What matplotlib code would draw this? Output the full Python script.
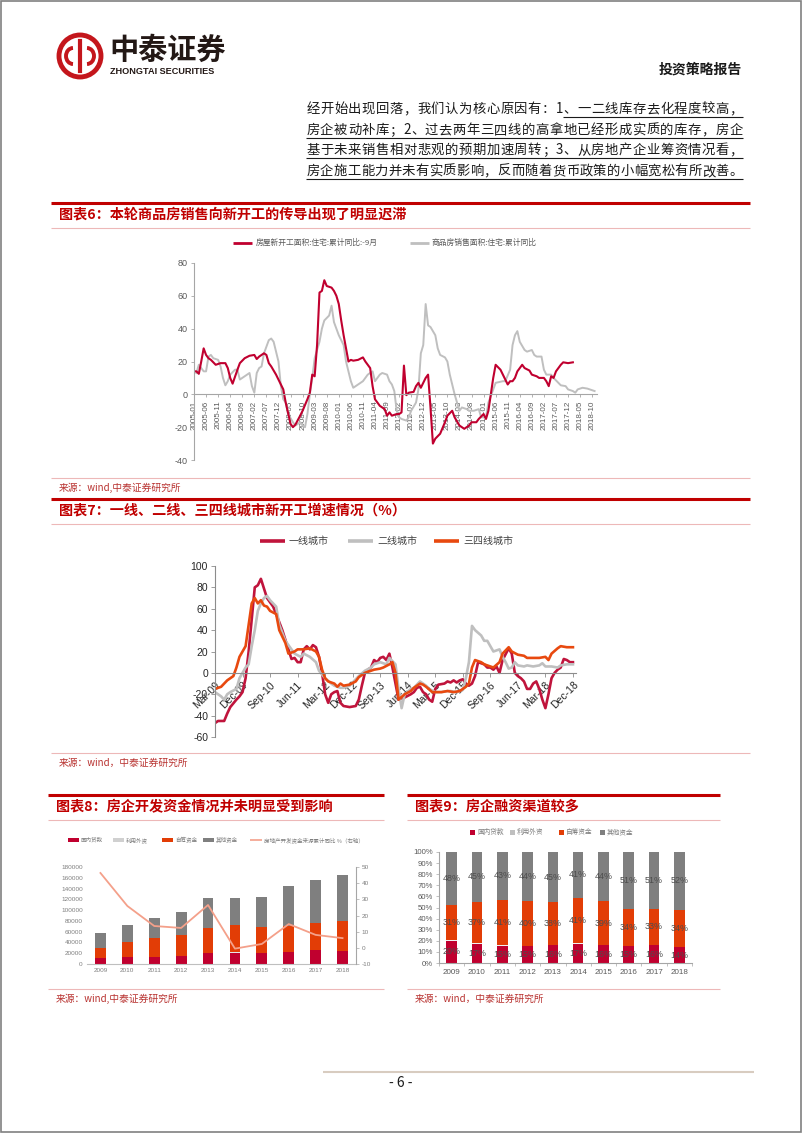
import numpy as np
import matplotlib.pyplot as plt
from matplotlib.patches import Circle, Rectangle, Arc

plt.rcParams['font.family'] = ['Noto Sans CJK SC', 'DejaVu Sans']

W, H = 802, 1133

# ---------------- data ----------------
para_lines = [
    "经开始出现回落，我们认为核心原因有：1、一二线库存去化程度较高，",
    "房企被动补库；2、过去两年三四线的高拿地已经形成实质的库存，房企",
    "基于未来销售相对悲观的预期加速周转；3、从房地产企业筹资情况看，",
    "房企施工能力并未有实质影响，反而随着货币政策的小幅宽松有所改善。",
]

# chart 6: month offset from 2005-01, value (%)
starts_pts = [(0, 14), (1, 14), (2, 12.5), (3, 20), (4, 28), (5, 24), (6, 22), (7, 21), (9, 18),
              (11, 19), (13, 19), (14, 16), (15, 10), (16, 6.5), (18, 15), (19, 19), (21, 22),
              (23, 23.5), (25, 24), (26, 21.5), (27, 23), (29, 25), (30, 24), (31, 19), (32, 17),
              (34, 12), (36, 6), (37, 3), (38, -5), (40, -18), (41, -20), (42, -18.5), (44, -13),
              (45, -10), (47, -3), (48, 1), (49, 12), (50, 11), (51, 30), (52, 62), (53, 63),
              (54, 69.5), (55, 66), (57, 65), (58, 63), (59, 60), (60, 55), (61, 45), (62, 36),
              (63, 28), (64, 20), (65, 21), (66, 20.5), (68, 21), (70, 22.5), (71, 20), (73, 16),
              (74, 5), (75, -3), (77, -7), (79, -9), (80, -13), (81, -11), (82, -13), (84, -12),
              (85, -12), (86, -11), (87, 17.5), (88, -0.5), (89, 1), (91, 1.5), (92, 5), (93, 7),
              (94, 4), (95, 7), (96, 10), (97, 12), (98, -8), (99, -30), (100, -27), (102, -24),
              (104, -17), (105, -13), (107, -10), (108, -14), (110, -19), (112, -21), (114, -19),
              (115, -17), (117, -17), (118, -15), (120, -12), (121, -15), (122, -10), (123, 0),
              (124, 10), (125, 18), (127, 15), (128, 12), (130, 6), (131, 8), (132, 8), (133, 10),
              (134, 14), (136, 18), (137, 16), (139, 14.5), (140, 12), (142, 11), (143, 10),
              (145, 10), (146, 8), (147, 5), (148, 11), (149, 10), (150, 14), (152, 18),
              (153, 19.5), (155, 19), (157, 19.5)]
sales_pts = [(1, 13), (2, 18), (3, 16), (4, 14), (5, 14), (6, 23), (7, 24), (8, 22), (10, 21),
             (11, 17), (12, 10), (13, 5.5), (14, 8), (15, 12), (17, 15), (18, 15), (19, 9),
             (21, 11), (23, 13), (24, 5), (25, 1), (26, 13), (27, 16), (28, 17), (29, 25),
             (31, 33), (32, 34), (33, 32), (35, 20), (36, 5), (37, -3), (38, -5), (39, -12),
             (41, -17), (42, -19), (44, -17), (45, -19), (46, -20), (47, -12), (48, 0), (49, 10),
             (50, 22), (52, 32), (53, 40), (54, 45), (56, 48), (57, 54), (58, 44), (59, 40),
             (60, 36), (62, 30), (63, 20), (65, 8), (66, 4), (67, 5), (68, 6), (70, 8), (72, 12),
             (74, 14), (75, 8), (77, 12), (78, 13), (80, 12), (81, 8), (82, 6), (83, 2),
             (84, -10), (85, -14), (86, -15), (88, -16), (89, -14), (90, -10), (92, -5), (93, 3),
             (94, 25), (95, 30), (96, 55), (97, 42), (98, 41), (100, 36), (101, 28), (102, 24),
             (104, 22.5), (105, 20), (106, 12), (108, 0), (109, -5), (110, -10), (111, -8),
             (113, -9), (114, -10), (116, -10), (118, -9), (119, -14), (121, -14), (122, -5),
             (124, 3), (125, 7), (128, 8), (129, 8), (131, 15), (132, 30), (133, 36), (134, 38.5),
             (135, 32), (137, 27), (138, 26), (140, 27), (141, 24), (142, 23), (144, 23),
             (145, 15), (146, 12), (148, 12), (149, 10), (151, 7), (152, 5.5), (154, 5),
             (155, 3), (157, 2), (158, 1), (159, 3), (161, 4), (163, 3.5), (165, 2.5), (166, 2)]

# chart 7: month offset from 2009-03
tier1_pts = [(0, -47), (1, -45), (3, -45), (4, -38), (5, -32), (7, -25), (8, -22), (9, -18),
             (10, -5), (11, 20), (12, 50), (13, 80), (14, 82), (15, 88), (16, 79), (17, 70),
             (18, 66), (19, 62), (20, 55), (22, 40), (24, 22), (25, 13), (26, 14), (27, 10),
             (28, 10), (29, 22), (30, 25), (31, 22), (32, 26), (33, 24), (34, 15), (35, 0),
             (36, -20), (37, -28), (38, -20), (39, -18), (40, -17), (41, -28), (42, -31),
             (44, -32), (46, -31), (47, -25), (48, -12), (49, 0), (50, 3), (51, 5), (52, 12),
             (53, 10), (54, 14), (55, 15), (56, 12), (57, 18), (58, 5), (59, -10), (60, -25),
             (62, -23), (64, -20), (65, -18), (66, -14), (67, -13), (68, -18), (69, -20),
             (70, -25), (71, -27), (72, -15), (73, -11), (75, -10), (76, -8), (77, -9), (78, -7),
             (79, -9), (80, -7), (81, -6), (82, -10), (83, -12), (84, -10), (85, -3), (86, 10),
             (88, 8), (89, 5), (90, 5), (91, 3), (92, 6), (93, 0), (94, 12), (96, 23), (97, 18),
             (98, 0), (99, -3), (100, -5), (101, -8), (102, -15), (103, -15), (104, -10),
             (105, -8), (106, -15), (107, -25), (108, -33), (109, -20), (110, -5), (111, 0),
             (112, 3), (113, 5), (114, 13), (115, 12), (116, 10), (117, 10)]
tier2_pts = [(0, -18), (2, -22), (3, -25), (4, -20), (5, -18), (7, -15), (8, -5), (10, 5),
             (11, 8), (12, 25), (13, 40), (14, 58), (15, 65), (16, 70), (17, 72), (18, 68),
             (20, 62), (21, 45), (23, 30), (25, 22), (26, 18), (28, 15), (29, 18), (31, 15),
             (33, 10), (34, 2), (36, -5), (38, -10), (39, -12), (41, -14), (42, -14), (44, -12),
             (46, -6), (47, -3), (49, 2), (51, 5), (52, 8), (54, 10), (56, 8), (57, 14), (59, 8),
             (60, -15), (61, -33), (62, -20), (64, -15), (65, -14), (67, -8), (69, -12),
             (70, -15), (72, -18), (74, -18), (76, -17), (77, -17), (79, -18), (81, -16),
             (82, -5), (83, 10), (84, 44), (85, 40), (87, 35), (88, 30), (89, 30), (90, 25),
             (91, 20), (93, 22), (94, 15), (95, 10), (96, 4), (97, 5), (98, 10), (99, 7),
             (101, 6), (102, 7), (104, 6), (106, 7), (107, 9), (108, 6), (110, 6), (112, 5),
             (113, 7), (115, 8), (117, 8)]
tier3_pts = [(0, -15), (2, -13), (3, -10), (4, -7), (6, -3), (7, 5), (8, 15), (9, 20), (10, 25),
             (11, 45), (12, 65), (13, 70), (14, 65), (15, 68), (16, 63), (17, 62), (18, 58),
             (20, 55), (21, 40), (23, 28), (24, 18), (26, 20), (27, 22), (29, 22), (31, 23),
             (33, 20), (34, 15), (35, 3), (36, -5), (37, -8), (39, -10), (40, -13), (41, -10),
             (42, -12), (44, -11), (46, -8), (47, -4), (49, 0), (51, 2), (52, 3), (54, 4),
             (55, 5), (57, 8), (58, 10), (59, 0), (60, -25), (62, -20), (64, -17), (65, -14),
             (67, -10), (68, -11), (69, -13), (71, -18), (74, -18), (76, -17), (78, -18),
             (80, -17), (82, -13), (83, -10), (84, 5), (85, 12), (87, 10), (88, 8), (90, 6),
             (91, 5), (93, 10), (94, 18), (96, 24), (97, 20), (99, 17), (101, 16), (102, 14),
             (104, 14), (106, 14), (108, 15), (109, 12), (110, 18), (112, 23), (113, 25),
             (115, 24), (117, 24)]

# chart 8 / 9
years = ['2009', '2010', '2011', '2012', '2013', '2014', '2015', '2016', '2017', '2018']
loans = [11300, 12600, 13000, 14800, 19600, 21200, 20200, 21500, 25200, 24000]
foreign = [480, 790, 790, 470, 530, 640, 300, 140, 170, 110]
selfraised = [17900, 26700, 35000, 39100, 47400, 49700, 49000, 49100, 50900, 55800]
others = [27800, 32400, 36200, 42100, 54500, 50400, 55500, 73300, 79700, 86100]
growth = [46.3, 25.9, 13.5, 12.3, 26.5, -0.5, 2.4, 14.7, 8.0, 6.0]

loan_pct = [20, 17, 15, 15, 16, 17, 16, 15, 16, 14]
foreign_pct = [1, 1, 1, 0.5, 0.4, 0.5, 0.2, 0.1, 0.1, 0.1]
self_pct = [31, 37, 41, 40, 38, 41, 39, 34, 33, 34]
other_pct = [48, 45, 43, 44, 45, 41, 44, 51, 51, 52]

RED = '#C0002F'
ORANGE = '#E23D06'
GREY = '#7F7F7F'
LGREY = '#BFBFBF'
TITLE_RED = '#C00000'

# ---------------- page ----------------
fig = plt.figure(figsize=(W / 100, H / 100), dpi=100)
bg = fig.add_axes([0, 0, 1, 1])
bg.set_xlim(0, W)
bg.set_ylim(H, 0)
bg.axis('off')


def px_axes(l, t, r, b):
    ax = fig.add_axes([l / W, 1 - b / H, (r - l) / W, (b - t) / H])
    ax.patch.set_alpha(0)
    return ax


def hline(x0, x1, y, color, lw):
    bg.plot([x0, x1], [y, y], color=color, lw=lw, solid_capstyle='butt')


bg.add_patch(Rectangle((0.5, 0.5), W - 2, H - 2, fill=False, ec='#808080', lw=1.2, clip_on=False))

# logo
bg.add_patch(Circle((80, 56), 21, fill=False, ec='#C4161C', lw=3.5))
bg.plot([80, 80], [41, 71], color='#C4161C', lw=3)
bg.add_patch(Arc((73, 56), 14, 16, theta1=90, theta2=270, ec='#C4161C', lw=2.8))
bg.add_patch(Arc((87, 56), 14, 16, theta1=-90, theta2=90, ec='#C4161C', lw=2.8))
bg.text(109, 50, '中泰证券', fontsize=21, fontweight='bold', va='center', ha='left', color='#231815')
bg.text(110, 71, 'ZHONGTAI SECURITIES', fontsize=6.6, fontweight='bold', va='center', ha='left',
        family='Liberation Sans', color='#231815')
bg.text(742, 70, '投资策略报告', fontsize=10, fontweight='bold', va='center', ha='right', color='#1a1a1a')

# paragraph, justified char by char
para_y = [109, 130, 150, 171]
for i, (line, y) in enumerate(zip(para_lines, para_y)):
    w = [0.55 if ord(c) < 128 else 1.0 for c in line]
    step = (743 - 306) / sum(w)
    x = 306
    xs = []
    for c, wi in zip(line, w):
        bg.text(x + wi * step / 2, y, c, fontsize=9.6, ha='center', va='center', color='#1a1a1a')
        xs.append(x)
        x += wi * step
    u0 = xs[line.index('、')] if i == 0 else 306
    hline(u0, 743, y + 7.5, '#1a1a1a', 0.8)


def section(x0, x1, top, title, src_y, src):
    hline(x0, x1, top, '#C00000', 2.2)
    bg.text(x0 + 8, top + 12, title, fontsize=10.2, fontweight='bold', color=TITLE_RED,
            va='center', ha='left')
    hline(x0, x1, top + 25, '#EDB8B8', 0.8)
    hline(x0, x1, src_y - 10, '#EDB8B8', 0.8)
    bg.text(x0 + 8, src_y, src, fontsize=7, color='#B8312F', va='center', ha='left')


section(51, 750, 203, '图表6：本轮商品房销售向新开工的传导出现了明显迟滞', 488, '来源：wind,中泰证券研究所')
section(51, 750, 499, '图表7：一线、二线、三四线城市新开工增速情况（%）', 763, '来源：wind，中泰证券研究所')
section(48, 384, 795, '图表8：房企开发资金情况并未明显受到影响', 999, '来源：wind,中泰证券研究所')
section(407, 720, 795, '图表9：房企融资渠道较多', 999, '来源：wind，中泰证券研究所')

# footer
hline(323, 754, 1072, '#D8CCC0', 1.5)
bg.text(401, 1083, '- 6 -', fontsize=10, ha='center', va='center', color='#1a1a1a')

# ---------------- chart 6 ----------------
ax6 = px_axes(194, 263, 597, 460)
sm, sv = zip(*sales_pts)
rm, rv = zip(*starts_pts)
ax6.plot(sm, sv, color=LGREY, lw=1.4)
ax6.plot(rm, rv, color=RED, lw=1.5)
ax6.set_xlim(0, 167)
ax6.set_ylim(-40, 80)
for s in ['top', 'right']:
    ax6.spines[s].set_visible(False)
ax6.spines['bottom'].set_position(('data', 0))
ax6.spines['bottom'].set_color('#A6A6A6')
ax6.spines['left'].set_color('#A6A6A6')
t6 = list(range(0, 166, 5))
ax6.set_xticks(t6)
ax6.set_xticklabels([f"{2005 + m // 12}-{m % 12 + 1:02d}" for m in t6], rotation=90,
                    fontsize=5.8, color='#595959', family='Liberation Sans')
ax6.set_yticks(range(-40, 81, 20))
ax6.set_yticklabels([str(v) for v in range(-40, 81, 20)], fontsize=6.5, color='#595959',
                    family='Liberation Sans')
ax6.tick_params(axis='both', length=2.5, width=0.6, color='#A6A6A6', pad=2)

hline(233, 252, 243, RED, 2)
bg.text(256, 243, '房屋新开工面积:住宅:累计同比:-9月', fontsize=5.6, color='#595959', va='center')
hline(410, 429, 243, LGREY, 2)
bg.text(432, 243, '商品房销售面积:住宅:累计同比', fontsize=5.6, color='#595959', va='center')

# ---------------- chart 7 ----------------
ax7 = px_axes(215, 566, 576, 737)
for pts, col in [(tier1_pts, '#C0143C'), (tier2_pts, LGREY), (tier3_pts, '#E8490F')]:
    m, v = zip(*pts)
    ax7.plot(m, v, color=col, lw=1.9)
ax7.set_xlim(0, 118)
ax7.set_ylim(-60, 100)
for s in ['top', 'right']:
    ax7.spines[s].set_visible(False)
ax7.spines['bottom'].set_position(('data', 0))
ax7.spines['bottom'].set_color('#8C8C8C')
ax7.spines['left'].set_color('#8C8C8C')
mon_abbr = ['Jan', 'Feb', 'Mar', 'Apr', 'May', 'Jun', 'Jul', 'Aug', 'Sep', 'Oct', 'Nov', 'Dec']
t7 = list(range(0, 118, 9))
ax7.set_xticks(t7)
ax7.set_xticklabels([f"{mon_abbr[(2 + m) % 12]}-{9 + (2 + m) // 12:02d}" for m in t7],
                    rotation=45, ha='right', rotation_mode='anchor', fontsize=7.5,
                    color='#262626', family='Liberation Sans')
ax7.set_yticks(range(-60, 101, 20))
ax7.set_yticklabels([str(v) for v in range(-60, 101, 20)], fontsize=7.5, color='#262626',
                    family='Liberation Sans')
ax7.tick_params(axis='both', length=3, width=0.6, color='#8C8C8C', pad=2)

for x0, col, lab in [(260, '#C0143C', '一线城市'), (348, LGREY, '二线城市'), (434, '#E8490F', '三四线城市')]:
    hline(x0, x0 + 25, 541, col, 2.6)
    bg.text(x0 + 29, 541, lab, fontsize=7.2, color='#404040', va='center')

# ---------------- chart 8 ----------------
x = np.arange(len(years))
ax8 = px_axes(87, 867, 356, 964)
b1 = np.array(loans)
b2 = b1 + np.array(foreign)
b3 = b2 + np.array(selfraised)
ax8.bar(x, loans, width=0.4, color=RED)
ax8.bar(x, foreign, width=0.4, bottom=b1, color='#E6E6E6')
ax8.bar(x, selfraised, width=0.4, bottom=b2, color=ORANGE)
ax8.bar(x, others, width=0.4, bottom=b3, color=GREY)
ax8.set_xlim(-0.5, 9.5)
ax8.set_ylim(0, 180000)
ax8.set_xticks(x)
ax8.set_xticklabels(years, fontsize=4.6, color='#7F7F7F', family='Liberation Sans')
ax8.set_yticks(range(0, 180001, 20000))
ax8.set_yticklabels([str(v) for v in range(0, 180001, 20000)], fontsize=4.6, color='#7F7F7F',
                    family='Liberation Sans')
for s in ['top', 'right', 'left']:
    ax8.spines[s].set_visible(False)
ax8.spines['bottom'].set_color('#BFBFBF')
ax8.tick_params(axis='both', length=0, pad=3)
ax8r = ax8.twinx()
ax8r.patch.set_alpha(0)
ax8r.plot(x, growth, color='#F4A08A', lw=1.3)
ax8r.set_ylim(-10, 50)
ax8r.set_yticks(range(-10, 51, 10))
ax8r.set_yticklabels([str(v) for v in range(-10, 51, 10)], fontsize=4.6, color='#7F7F7F',
                     family='Liberation Sans')
for s in ['top', 'left', 'bottom']:
    ax8r.spines[s].set_visible(False)
ax8r.spines['right'].set_color('#A6A6A6')
ax8r.tick_params(axis='y', length=2, width=0.5, color='#A6A6A6', pad=2)

for x0, col, lab in [(68, RED, '国内贷款'), (113, '#D0D0D0', '利用外资'), (162, ORANGE, '自筹资金'),
                     (203, GREY, '其他资金')]:
    bg.add_patch(Rectangle((x0, 838), 11, 4, color=col, lw=0))
    bg.text(x0 + 13, 840, lab, fontsize=4.0, color='#7F7F7F', va='center')
hline(250, 262, 840, '#F4A08A', 1.2)
bg.text(264, 840, '房地产开发资金来源累计同比 %（右轴）', fontsize=4.0, color='#7F7F7F', va='center')

# ---------------- chart 9 ----------------
ax9 = px_axes(439, 852, 692, 963)
tot = np.array(loan_pct) + np.array(foreign_pct) + np.array(self_pct) + np.array(other_pct)
p1 = np.array(loan_pct) / tot * 100
p2 = np.array(foreign_pct) / tot * 100
p3 = np.array(self_pct) / tot * 100
p4 = np.array(other_pct) / tot * 100
ax9.bar(x, p1, width=0.42, color=RED)
ax9.bar(x, p2, width=0.42, bottom=p1, color='#F2F2F2')
ax9.bar(x, p3, width=0.42, bottom=p1 + p2, color=ORANGE)
ax9.bar(x, p4, width=0.42, bottom=p1 + p2 + p3, color=GREY)
for i in range(len(years)):
    for mid, lab in [(p1[i] / 2, loan_pct[i]), (p1[i] + p2[i] + p3[i] / 2, self_pct[i]),
                     (p1[i] + p2[i] + p3[i] + p4[i] / 2, other_pct[i])]:
        ax9.text(x[i], mid, f'{lab}%', fontsize=6.4, color='#4D4D4D', ha='center', va='center',
                 family='Liberation Sans')
ax9.set_xlim(-0.5, 9.5)
ax9.set_ylim(0, 100)
ax9.set_xticks(x)
ax9.set_xticklabels(years, fontsize=5.8, color='#595959', family='Liberation Sans')
ax9.set_xticks(np.arange(-0.5, 10, 1), minor=True)
ax9.set_yticks(range(0, 101, 10))
ax9.set_yticklabels([f'{v}%' for v in range(0, 101, 10)], fontsize=5.6, color='#595959',
                    family='Liberation Sans')
for s in ['top', 'right']:
    ax9.spines[s].set_visible(False)
ax9.spines['bottom'].set_color('#A6A6A6')
ax9.spines['left'].set_color('#A6A6A6')
ax9.tick_params(axis='x', which='major', length=0, pad=4)
ax9.tick_params(axis='x', which='minor', length=2.5, width=0.5, color='#A6A6A6')
ax9.tick_params(axis='y', length=2.5, width=0.5, color='#A6A6A6', pad=2)

for x0, col, lab in [(470, RED, '国内贷款'), (510, '#BFBFBF', '利用外资'), (559, ORANGE, '自筹资金'),
                     (600, GREY, '其他资金')]:
    bg.add_patch(Rectangle((x0, 829.5), 5, 5, color=col, lw=0))
    bg.text(x0 + 7, 832, lab, fontsize=4.8, color='#7F7F7F', va='center')

fig.savefig('out.png', dpi=100)
